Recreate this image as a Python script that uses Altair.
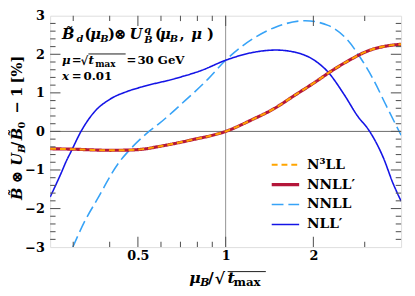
import altair as alt
import pandas as pd

# ---------------- data ----------------
series_names = ["N³LL", "NNLL′", "NNLL", "NLL′"]
series_colors = ["#FFA500", "#B4163A", "#37A3F7", "#1414E6"]
series_dashes = [[6, 4], [1, 0], [12, 5], [1, 0]]
series_widths = [2.0, 3.2, 1.6, 1.6]

mu_n3ll = [0.25, 0.311, 0.35, 0.402, 0.457, 0.52, 0.591, 0.764, 1.0, 1.244,
           1.45, 1.737, 2.03, 2.30, 2.69, 3.06, 3.475, 4.0]
val_n3ll = [-0.45, -0.465, -0.48, -0.49, -0.485, -0.46, -0.39, -0.22, 0.0, 0.32,
            0.57, 0.95, 1.28, 1.56, 1.87, 2.08, 2.20, 2.26]

mu_nnllp = [0.25, 0.311, 0.35, 0.402, 0.457, 0.52, 0.591, 0.764, 1.0, 1.244,
            1.45, 1.737, 2.03, 2.30, 2.69, 3.06, 3.475, 4.0]
val_nnllp = [-0.45, -0.465, -0.48, -0.49, -0.485, -0.46, -0.39, -0.22, 0.0, 0.32,
             0.57, 0.95, 1.28, 1.56, 1.87, 2.08, 2.20, 2.26]

mu_nnll = [0.299, 0.327, 0.362, 0.434, 0.463, 0.546, 0.591, 0.707, 0.868, 1.0,
           1.244, 1.489, 1.876, 2.245, 2.62, 2.90, 3.22, 3.56, 4.0]
val_nnll = [-3.0, -2.36, -1.77, -0.77, -0.52, 0.0, 0.2, 0.72, 1.35, 1.845,
            2.41, 2.71, 2.87, 2.75, 2.37, 1.91, 1.33, 0.66, -0.10]

mu_nllp = [0.25, 0.272, 0.284, 0.295, 0.319, 0.353, 0.402, 0.457, 0.519, 0.671,
           0.825, 1.0, 1.244, 1.489, 1.737, 2.03, 2.245, 2.553, 2.829, 3.12,
           3.475, 3.754, 4.0]
val_nllp = [-1.70, -1.10, -0.77, -0.52, 0.0, 0.49, 0.84, 1.03, 1.16, 1.37,
            1.58, 1.845, 2.05, 2.11, 2.05, 1.83, 1.54, 0.95, 0.41, 0.0,
            -0.68, -1.35, -1.81]

x_label_values = [0.5, 1, 2]
x_major_ticks = [0.5, 1, 2]
x_minor_ticks = [0.3, 0.4, 0.6, 0.7, 0.8, 0.9, 3]
y_label_values = [-3, -2, -1, 0, 1, 2, 3]
y_major_ticks = [-2, -1, 0, 1, 2]
y_minor_ticks = [-2.8, -2.6, -2.4, -2.2, -1.8, -1.6, -1.4, -1.2, -0.8, -0.6,
                 -0.4, -0.2, 0.2, 0.4, 0.6, 0.8, 1.2, 1.4, 1.6, 1.8,
                 2.2, 2.4, 2.6, 2.8]

rows = []
for name, mus, vals in [("NNLL", mu_nnll, val_nnll), ("NLL′", mu_nllp, val_nllp),
                        ("NNLL′", mu_nnllp, val_nnllp), ("N³LL", mu_n3ll, val_n3ll)]:
    for m, v in zip(mus, vals):
        rows.append({"series": name, "mu": m, "val": v})
df = pd.DataFrame(rows)

# ---------------- styling / layout ----------------
FONT = "DejaVu Serif"
FRAME = "#808080"
TICK = "#5a5a5a"
W, H = 358, 236
OX, OY = 51, 13  # page position of the plot origin
MAJ_PX, MIN_PX = 10.5, 5.5  # inward tick lengths in pixels

x_scale = alt.Scale(type="log", domain=[0.25, 4], nice=False)
y_scale = alt.Scale(domain=[-3, 3], nice=False, zero=False)
x_axis = alt.Axis(values=x_label_values, title=None, ticks=False, tickSize=0, domain=False,
                  grid=False, format="~g", labelPadding=3, labelFont=FONT,
                  labelFontSize=13, labelFontWeight="bold", labelColor="black")
y_axis = alt.Axis(values=y_label_values, title=None, ticks=False, tickSize=0, domain=False,
                  grid=False, format="d", labelPadding=6, labelFont=FONT,
                  labelFontSize=13, labelFontWeight="bold", labelColor="black")

leg = alt.Legend(title=None, orient="none", legendX=224, legendY=142, symbolType="stroke",
                 symbolSize=784, clipHeight=20, rowPadding=0.3, padding=0, labelOffset=6,
                 labelFont=FONT, labelFontSize=14, labelFontWeight="bold",
                 labelColor="black")

enc = dict(
    x=alt.X("mu:Q", scale=x_scale, axis=x_axis),
    y=alt.Y("val:Q", scale=y_scale, axis=y_axis),
    color=alt.Color("series:N", scale=alt.Scale(domain=series_names, range=series_colors), legend=leg),
    strokeDash=alt.StrokeDash("series:N", scale=alt.Scale(domain=series_names, range=series_dashes), legend=leg),
    strokeWidth=alt.StrokeWidth("series:N", scale=alt.Scale(type="ordinal", domain=series_names, range=series_widths), legend=leg),
)

one = pd.DataFrame({"a": [0]})
hline = alt.Chart(one).mark_rule(color="#444444", strokeWidth=0.8).encode(
    y=alt.YDatum(0, scale=y_scale, axis=y_axis))
vline = alt.Chart(one).mark_rule(color="#777777", strokeWidth=0.8).encode(
    x=alt.XDatum(1, scale=x_scale, axis=x_axis))

line_layers = []
for name in ["NNLL", "NLL′", "NNLL′", "N³LL"]:
    line_layers.append(
        alt.Chart(df).transform_filter(alt.datum.series == name)
        .mark_line(interpolate="monotone", clip=True).encode(**enc))


# inward frame ticks: position through the scales, length in pixels
def xticks(vals, y0, y1):
    return alt.Chart(pd.DataFrame({"tickpos": vals})).mark_rule(
        color=TICK, strokeWidth=1.1).encode(
        x=alt.X("tickpos:Q", scale=x_scale, axis=x_axis),
        y=alt.value(y0), y2=alt.value(y1))


def yticks(vals, x0, x1):
    return alt.Chart(pd.DataFrame({"tickpos": vals})).mark_rule(
        color=TICK, strokeWidth=1.1).encode(
        y=alt.Y("tickpos:Q", scale=y_scale, axis=y_axis),
        x=alt.value(x0), x2=alt.value(x1))


tick_layers = [
    xticks(x_major_ticks, H, H - MAJ_PX), xticks(x_minor_ticks, H, H - MIN_PX),
    xticks(x_major_ticks, 0, MAJ_PX), xticks(x_minor_ticks, 0, MIN_PX),
    yticks(y_major_ticks, 0, MAJ_PX), yticks(y_minor_ticks, 0, MIN_PX),
    yticks(y_major_ticks, W, W - MAJ_PX), yticks(y_minor_ticks, W, W - MIN_PX),
]

# ---------------- math text pieces (page coordinates) ----------------
# (text, x, y, size, angle, style)
pieces = [
    # in-plot title  B~_d(mu_B) (x) U^q_B(mu_B, mu)
    ("B\u0303", 63, 37, 15, 0, "i"), ("d", 78, 40, 10, 0, "i"), ("(", 86, 37, 15, 0, "u"),
    ("μ", 92, 37, 15, 0, "i"), ("B", 102, 40, 10, 0, "i"), (")", 110, 37, 15, 0, "u"),
    ("⊗", 116, 37, 15, 0, "u"), ("U", 132, 37, 15, 0, "i"), ("q", 147, 31, 10, 0, "i"),
    ("B", 147, 41, 10, 0, "i"), ("(", 158, 37, 15, 0, "u"), ("μ", 163, 37, 15, 0, "i"),
    ("B", 173, 40, 10, 0, "i"), (",", 183, 37, 15, 0, "u"), ("μ", 195, 37, 15, 0, "i"),
    (")", 211, 37, 15, 0, "u"),
    # mu = sqrt(t_max) = 30 GeV
    ("μ", 63, 62, 12, 0, "i"), ("=", 73, 62, 12, 0, "u"), ("√", 82, 63, 12, 0, "u"),
    ("t", 90, 62, 12, 0, "i"), ("max", 97, 65, 9, 0, "u"), ("=", 129, 62, 12, 0, "u"),
    ("30 GeV", 140, 62, 12, 0, "u"),
    # x = 0.01
    ("x", 63, 79, 12, 0, "i"), ("=", 73, 79, 12, 0, "u"), ("0.01", 85, 79, 12, 0, "u"),
    # x-axis title  mu_B / sqrt(t_max)
    ("μ", 193, 286, 16, 0, "i"), ("B", 204, 289, 11, 0, "i"), ("/", 212, 286, 16, 0, "u"),
    ("√", 219, 287, 16, 0, "u"), ("t", 232, 286, 16, 0, "i"), ("max", 238, 289, 12, 0, "u"),
    # y-axis title  B~ (x) U_B / B~_0 - 1 [%]   (rotated, reading upwards)
    ("B\u0303", 22, 201, 15, 270, "i"), ("⊗", 22, 184, 15, 270, "u"), ("U", 22, 166, 15, 270, "i"),
    ("B", 25.5, 153, 10, 270, "i"), ("/", 22, 147, 15, 270, "u"), ("B\u0303", 22, 140, 15, 270, "i"),
    ("0", 25.5, 128, 10, 270, "u"), ("−", 22, 113, 15, 270, "u"), ("1", 22, 96, 15, 270, "u"),
    ("[%]", 22, 82, 15, 270, "u"),
]
tdf = pd.DataFrame(pieces, columns=["t", "px", "py", "s", "a", "st"])
tdf["x"] = tdf["px"] - OX
tdf["y"] = tdf["py"] - OY

text_layers = []
for st, style in [("i", "italic"), ("u", "normal")]:
    text_layers.append(
        alt.Chart(tdf).transform_filter(alt.datum.st == st).mark_text(
            align="left", baseline="alphabetic", font=FONT, fontStyle=style,
            fontWeight="bold", color="black").encode(
            x=alt.X("x:Q", scale=None, axis=None),
            y=alt.Y("y:Q", scale=None, axis=None),
            text="t:N",
            size=alt.Size("s:Q", scale=None, legend=None),
            angle=alt.Angle("a:Q", scale=None, legend=None)))

# overlines of the square roots (page coordinates)
odf = pd.DataFrame({"x1": [90 - OX, 232 - OX], "x2": [128 - OX, 271 - OX],
                    "y": [52 - OY, 274 - OY]})
overlines = alt.Chart(odf).mark_rule(color="black", strokeWidth=0.9).encode(
    x=alt.X("x1:Q", scale=None, axis=None), x2="x2:Q",
    y=alt.Y("y:Q", scale=None, axis=None))

chart = alt.layer(
    hline, vline, *line_layers, *tick_layers, *text_layers, overlines
).properties(
    width=W, height=H,
    autosize=alt.AutoSizeParams(type="none"),
    padding={"left": 43, "top": 5, "right": 6, "bottom": 47},
).configure_view(stroke=FRAME, strokeWidth=1).configure(background="white")

chart.save("out.html", embed_options={"renderer": "svg", "actions": False})
